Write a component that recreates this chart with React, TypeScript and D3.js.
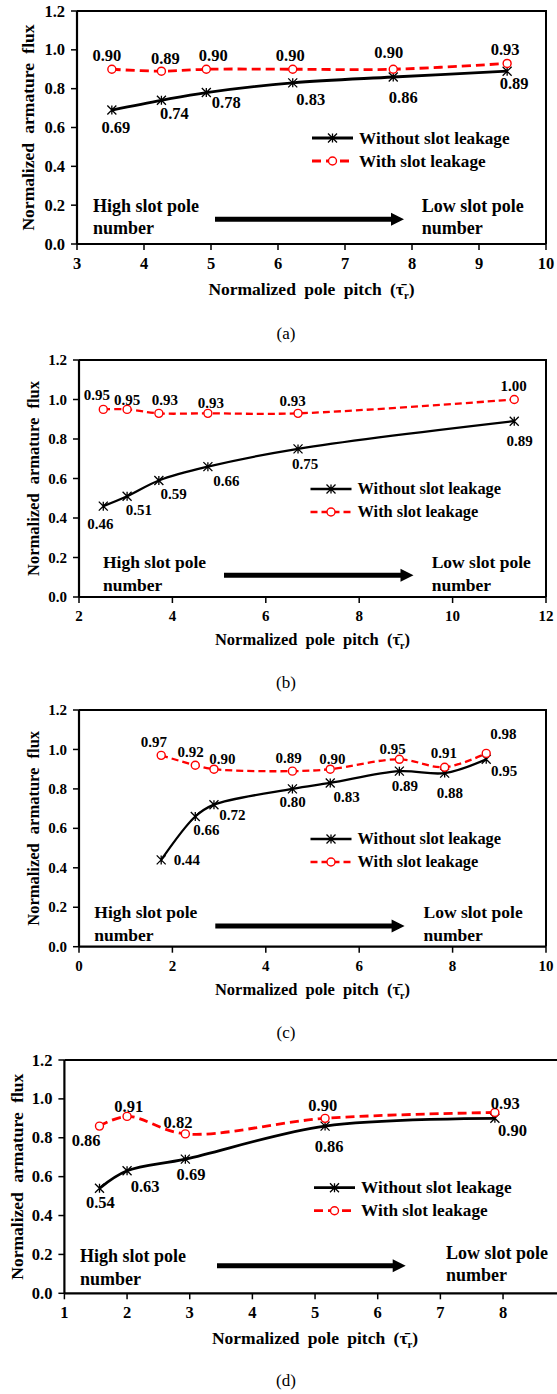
import * as d3 from 'd3'

// (a)
const aPitch = [3.52, 4.26, 4.93, 6.22, 7.72, 9.42]
const aWithout = [0.69, 0.74, 0.78, 0.83, 0.86, 0.89]
const aWith = [0.90, 0.89, 0.90, 0.90, 0.90, 0.93]
const aXTicks = [3, 4, 5, 6, 7, 8, 9, 10]

// (b)
const bPitch = [2.52, 3.03, 3.71, 4.76, 6.69, 11.32]
const bWithout = [0.46, 0.51, 0.59, 0.66, 0.75, 0.89]
const bWith = [0.95, 0.95, 0.93, 0.93, 0.93, 1.00]
const bXTicks = [2, 4, 6, 8, 10, 12]

// (c)
const cPitch = [1.76, 2.49, 2.89, 4.57, 5.38, 6.86, 7.83, 8.72]
const cWithout = [0.44, 0.66, 0.72, 0.80, 0.83, 0.89, 0.88, 0.95]
const cWith = [0.97, 0.92, 0.90, 0.89, 0.90, 0.95, 0.91, 0.98]
const cXTicks = [0, 2, 4, 6, 8, 10]

// (d) - axis runs to 9, which falls just outside the figure
const dPitch = [1.56, 2.0, 2.93, 5.16, 7.87]
const dWithout = [0.54, 0.63, 0.69, 0.86, 0.90]
const dWith = [0.86, 0.91, 0.82, 0.90, 0.93]
const dXTicks = [1, 2, 3, 4, 5, 6, 7, 8]

const yTicks = [0, 0.2, 0.4, 0.6, 0.8, 1.0, 1.2]
const seriesNames = ['Without slot leakage', 'With slot leakage']

// data label offsets (label centre relative to the point), px
const aWithoutLbl = [[4, 17], [13, 13], [20, 10], [18, 17], [10, 20], [7, 12]]
const aWithLbl = [[-5, -14], [4, -12.5], [7, -13.5], [-2.5, -13.5], [-4.5, -16.5], [-2, -14]]
const bWithoutLbl = [[-3, 18], [11.7, 13.7], [14.8, 13.5], [18.4, 14.4], [7, 15], [5.4, 19.5]]
const bWithLbl = [[-6.5, -14.4], [0, -9.4], [6, -13.3], [3, -10], [-5.5, -12.3], [-0.7, -13.5]]
const cWithoutLbl = [[25.6, 0], [11.1, 13.5], [18.3, 10.3], [0.3, 12.8], [16.5, 14.3], [5.6, 14.8], [5.3, 19.5], [17.8, 11.6]]
const cWithLbl = [[-7.2, -13.7], [-4.6, -13], [8.3, -9.9], [-3.7, -12.9], [2.1, -9.9], [-6.7, -10.7], [-0.7, -13.9], [17.1, -19.1]]
const dWithoutLbl = [[0.9, 14.4], [18.1, 15.9], [5.7, 15.1], [4.1, 19.9], [17.6, 11.7]]
const dWithLbl = [[-13.4, 13.9], [1.7, -10.4], [-7.3, -11.2], [-2.3, -13.3], [10.4, -9.2]]

const panels = [
  {
    caption: '(a)', pitch: aPitch, without: aWithout, withLeak: aWith, xDomain: [3, 10], xTicks: aXTicks,
    withoutLbl: aWithoutLbl, withLbl: aWithLbl,
    left: 77, right: 546, top: 11, bottom: 244, big: true,
    yTitleX: 28, legendX: 312, legendY: 138, highX: 93, lowX: 421.7, highY: 205.7, lowY: 205.7,
    arrowX: [215, 404], arrowY: 219.3, titleY: 289, captionY: 333,
  },
  {
    caption: '(b)', pitch: bPitch, without: bWithout, withLeak: bWith, xDomain: [2, 12], xTicks: bXTicks,
    withoutLbl: bWithoutLbl, withLbl: bWithLbl,
    left: 79, right: 546, top: 360, bottom: 597, big: false,
    yTitleX: 34, legendX: 310.5, legendY: 489, highX: 103, lowX: 431.7, highY: 562.7, lowY: 562.7,
    arrowX: [224, 413.5], arrowY: 575.3, titleY: 640, captionY: 682,
  },
  {
    caption: '(c)', pitch: cPitch, without: cWithout, withLeak: cWith, xDomain: [0, 10], xTicks: cXTicks,
    withoutLbl: cWithoutLbl, withLbl: cWithLbl,
    left: 79, right: 546, top: 710, bottom: 946.7, big: false,
    yTitleX: 34, legendX: 310.5, legendY: 839, highX: 94.3, lowX: 423.5, highY: 912.7, lowY: 912.7,
    arrowX: [215.3, 404.6], arrowY: 926, titleY: 990, captionY: 1032,
  },
  {
    caption: '(d)', pitch: dPitch, without: dWithout, withLeak: dWith, xDomain: [1, 9], xTicks: dXTicks,
    withoutLbl: dWithoutLbl, withLbl: dWithLbl,
    left: 64.4, right: 565.7, top: 1060, bottom: 1293.3, big: true,
    yTitleX: 17, legendX: 314, legendY: 1187.7, highX: 80, lowX: 446, highY: 1256, lowY: 1252.7,
    arrowX: [217, 405.7], arrowY: 1265.7, titleY: 1338.3, captionY: 1380,
  },
]

const FONT = 'Liberation Serif'
const RED = '#ff0000'

function Star({ x, y, s = 4.5 }: { x: number; y: number; s?: number }) {
  return (
    <path d={`M${x},${y - s}L${x},${y + s}M${x - s},${y - s}L${x + s},${y + s}M${x - s},${y + s}L${x + s},${y - s}`}
      stroke="#000" strokeWidth={1.3} fill="none" />
  )
}

function Ring({ x, y }: { x: number; y: number }) {
  return <circle cx={x} cy={y} r={4} fill="#fff" stroke={RED} strokeWidth={1.4} />
}

function T(props: any) {
  const { size, weight = 'bold', children, ...rest } = props
  return <text fontFamily={FONT} fontWeight={weight} fontSize={size} fill="#000" {...rest}>{children}</text>
}

function Panel({ p }: { p: typeof panels[number] }) {
  const fs = p.big
    ? { tick: 16.5, label: 16.5, legend: 17.2, note: 18, title: 17.5, lw: 2.8, dash: '9,5' }
    : { tick: 15, label: 15, legend: 16.4, note: 17.5, title: 16.5, lw: 2.3, dash: '7,4' }

  const x = d3.scaleLinear().domain(p.xDomain).range([p.left, p.right])
  const y = d3.scaleLinear().domain([0, 1.2]).range([p.bottom, p.top])
  const line = d3.line().curve(d3.curveCatmullRom.alpha(0.5))
  const pts = (vals: number[]) => vals.map((v, i) => [x(p.pitch[i]), y(v)] as [number, number])
  const without = pts(p.without)
  const withLeak = pts(p.withLeak)
  const [ax0, ax1] = p.arrowX
  const ay = p.arrowY

  return (
    <g>
      {/* frame and axes */}
      <path d={`M${p.left},${p.top}H${p.right}V${p.bottom}`} fill="none" stroke="#000" strokeWidth={2} />
      <line x1={p.left} x2={p.left} y1={p.top} y2={p.bottom} stroke="#000" strokeWidth={2.2} />
      <line x1={p.left} x2={p.right} y1={p.bottom} y2={p.bottom} stroke="#000" strokeWidth={2.2} />

      {yTicks.map(t => (
        <g key={'y' + t}>
          <line x1={p.left - 6} x2={p.left} y1={y(t)} y2={y(t)} stroke="#000" strokeWidth={1.5} />
          <T size={fs.tick} x={p.left - 12} y={y(t) + fs.tick * 0.34} textAnchor="end">{d3.format('.1f')(t)}</T>
        </g>
      ))}
      {p.xTicks.map(t => (
        <g key={'x' + t}>
          <line x1={x(t)} x2={x(t)} y1={p.bottom} y2={p.bottom + 6} stroke="#000" strokeWidth={1.5} />
          <T size={fs.tick} x={x(t)} y={p.bottom + 19 + fs.tick * 0.34} textAnchor="middle">{d3.format('d')(t)}</T>
        </g>
      ))}

      {/* axis titles */}
      <T size={fs.title} x={(p.left + p.right) / 2} y={p.titleY + fs.title * 0.33} textAnchor="middle"
        style={{ wordSpacing: '4px' }}>
        Normalized pole pitch (
        <tspan>{'\u03c4\u0304'}</tspan>
        <tspan fontSize={fs.title * 0.62} dy={4}>r</tspan>
        <tspan dy={-4}>)</tspan>
      </T>
      <T size={fs.title} textAnchor="middle" style={{ wordSpacing: '5px' }}
        transform={`translate(${p.yTitleX + fs.title * 0.33},${(p.top + p.bottom) / 2}) rotate(-90)`}>
        Normalized armature flux
      </T>

      {/* series */}
      <path d={line(withLeak) || ''} fill="none" stroke={RED} strokeWidth={fs.lw} strokeDasharray={fs.dash} />
      <path d={line(without) || ''} fill="none" stroke="#000" strokeWidth={fs.lw} />
      {without.map(([px, py], i) => <Star key={'s' + i} x={px} y={py} />)}
      {withLeak.map(([px, py], i) => <Ring key={'r' + i} x={px} y={py} />)}

      {/* data labels */}
      {p.without.map((v, i) => (
        <T key={'lw' + i} size={fs.label} textAnchor="middle"
          x={without[i][0] + p.withoutLbl[i][0]} y={without[i][1] + p.withoutLbl[i][1] + fs.label * 0.34}>
          {v.toFixed(2)}
        </T>
      ))}
      {p.withLeak.map((v, i) => (
        <T key={'lr' + i} size={fs.label} textAnchor="middle"
          x={withLeak[i][0] + p.withLbl[i][0]} y={withLeak[i][1] + p.withLbl[i][1] + fs.label * 0.34}>
          {v.toFixed(2)}
        </T>
      ))}

      {/* legend */}
      {seriesNames.map((name, i) => {
        const ly = p.legendY + i * 23
        const x0 = p.legendX, x1 = p.legendX + 41
        return (
          <g key={name}>
            <line x1={x0} x2={x1} y1={ly} y2={ly} stroke={i === 0 ? '#000' : RED} strokeWidth={fs.lw}
              strokeDasharray={i === 1 ? fs.dash : undefined} />
            {i === 0 ? <Star x={(x0 + x1) / 2} y={ly} /> : <Ring x={(x0 + x1) / 2} y={ly} />}
            <T size={fs.legend} x={x1 + 6} y={ly + fs.legend * 0.33}>{name}</T>
          </g>
        )
      })}

      {/* slot pole annotation */}
      <T size={fs.note} x={p.highX} y={p.highY + fs.note * 0.33}>High slot pole</T>
      <T size={fs.note} x={p.highX} y={p.highY + 22.8 + fs.note * 0.33}>number</T>
      <T size={fs.note} x={p.lowX} y={p.lowY + fs.note * 0.33}>Low slot pole</T>
      <T size={fs.note} x={p.lowX} y={p.lowY + 22.8 + fs.note * 0.33}>number</T>
      <path d={`M${ax0},${ay - 2.5}H${ax1 - 13}V${ay - 6.5}L${ax1},${ay}L${ax1 - 13},${ay + 6.5}V${ay + 2.5}H${ax0}Z`} fill="#000" />

      <T size={17} weight="normal" x={286} y={p.captionY + 6} textAnchor="middle">{p.caption}</T>
    </g>
  )
}

export default function App() {
  return (
    <svg width={557} height={1394} style={{ position: 'absolute', left: 0, top: 0, background: '#fff' }}>
      {panels.map(p => <Panel key={p.caption} p={p} />)}
    </svg>
  )
}
